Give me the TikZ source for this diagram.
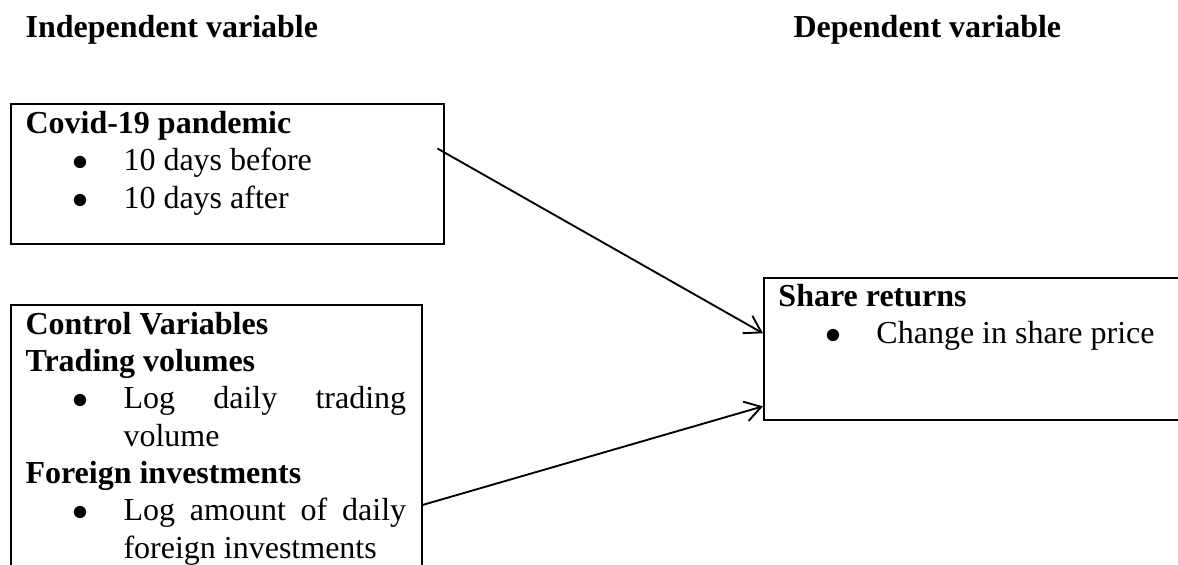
\documentclass[tikz,border=0pt]{standalone}
\usepackage{fontspec}
\setmainfont{Liberation Serif}
\usetikzlibrary{arrows.meta}
\newcommand{\bitem}[1]{\hspace*{17.6pt}\makebox[19.15pt][l]{$\bullet$}#1}
\newcommand{\contline}[1]{\hspace*{36.75pt}#1}

\begin{document}
\begin{tikzpicture}[box/.style = {draw, line width=0.9pt, anchor=north west, inner sep=0pt},
    txt/.style = {anchor=base west, inner sep=0pt, align=left, font=\fontsize{12}{14}\selectfont},
    head/.style = {txt, font=\fontsize{12}{14}\selectfont\bfseries},
    link/.style = {line width=0.7pt, -{Straight Barb[length=6pt,width=7.5pt]}}]
    \useasboundingbox (0,0) rectangle (441.75pt,-211.875pt);
    \clip (0,0) rectangle (441.75pt,-211.875pt);
    % headings
    \node[head] (indep) at (9.4pt,-13.9pt) {Independent variable};
    \node[head] (dep) at (297.4pt,-13.9pt) {Dependent variable};
    % boxes
    \node[box, minimum width=162.4pt, minimum height=52.5pt] (covid) at (3.75pt,-38.6pt) {};
    \node[box, minimum width=154.1pt, minimum height=105pt] (control) at (3.75pt,-114pt) {};
    \node[box, minimum width=170pt, minimum height=53.25pt] (share) at (286.1pt,-103.9pt) {};
    % box texts (anchored at the baseline of their last line)
    \node[txt] (covidtxt) at ([shift={(5.625pt,-39.5pt)}]covid.north west)
        {\textbf{Covid-19 pandemic}\\ \bitem{10 days before}\\ \bitem{10 days after}};
    \node[txt] (controltxt) at ([shift={(5.625pt,-95.3pt)}]control.north west)
        {\textbf{Control Variables}\\
         \textbf{Trading volumes}\\
         \bitem{\makebox[106pt][s]{Log daily trading}}\\
         \contline{volume}\\
         \textbf{Foreign investments}\\
         \bitem{\makebox[106pt][s]{Log amount of daily}}\\
         \contline{foreign investments}};
    \node[txt] (sharetxt) at ([shift={(5.625pt,-25pt)}]share.north west)
        {\textbf{Share returns}\\ \bitem{Change in share price}};
    % arrows
    \draw[link] ([xshift=-3pt,yshift=9.6pt]covid.east) -- ([yshift=6pt]share.west);
    \draw[link] ([xshift=-0.4pt,yshift=-75.4pt]control.north east) -- ([yshift=-21.4pt]share.west);
\end{tikzpicture}
\end{document}
